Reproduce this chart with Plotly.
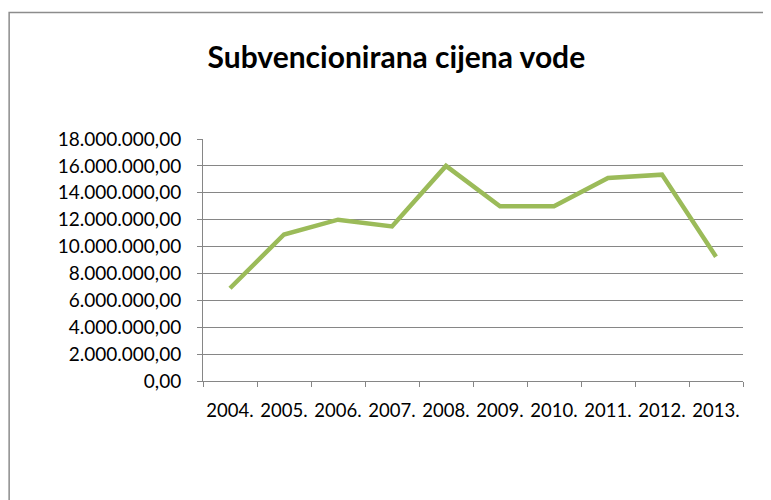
import plotly.graph_objects as go

years = ["2004.", "2005.", "2006.", "2007.", "2008.", "2009.", "2010.", "2011.", "2012.", "2013."]
values = [6900000, 10900000, 12000000, 11500000, 16000000, 13000000, 13000000, 15100000, 15350000, 9250000]
title_text = "Subvencionirana cijena vode"

GRID = "#868686"
FONT = "Lato, 'Open Sans', sans-serif"

fig = go.Figure()
fig.add_trace(go.Scatter(
    x=years, y=values, mode="lines",
    line=dict(color="#9BBB59", width=4.5),
    hoverinfo="x+y", showlegend=False,
))

fig.update_layout(
    width=763, height=492,
    margin=dict(l=195, r=28, t=131, b=119),
    paper_bgcolor="white", plot_bgcolor="white",
    separators=",.",
    font=dict(family=FONT, size=19, color="black"),
    title=dict(text="<b>" + title_text + "</b>", x=0.509, y=0.900,
               xanchor="center", yanchor="middle", xref="container", yref="container",
               font=dict(family=FONT, size=30, color="black")),
    xaxis=dict(type="category", range=[-0.5, 9.5], tickson="boundaries",
               ticks="outside", ticklen=5, tickcolor=GRID, showline=True,
               linecolor=GRID, linewidth=1, showgrid=False, zeroline=False,
               tickangle=0, ticklabelstandoff=13, tickfont=dict(size=18.5)),
    yaxis=dict(range=[0, 18000000], dtick=2000000, tickformat=",.2f",
               ticks="outside", ticklen=5, tickcolor=GRID, showline=True,
               linecolor=GRID, linewidth=1, showgrid=True, gridcolor=GRID,
               gridwidth=1, zeroline=False, ticklabelstandoff=12,
               tickfont=dict(size=19)),
    shapes=[dict(type="rect", xref="paper", yref="paper",
                 x0=-0.359, x1=1.09, y0=-0.56, y1=1.523,
                 line=dict(color="#8c8c8c", width=1.5), fillcolor="rgba(0,0,0,0)",
                 layer="below")],
)

fig.write_html("out.html")
